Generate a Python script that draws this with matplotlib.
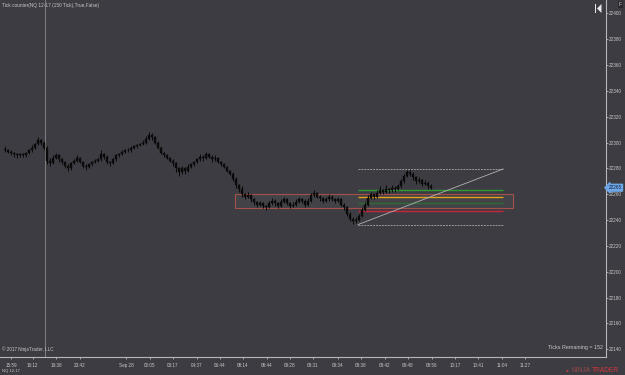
import matplotlib
matplotlib.use("Agg")
import matplotlib.pyplot as plt
from matplotlib.patches import Rectangle, Polygon
import matplotlib.transforms as mtransforms

plt.rcParams['font.family'] = ['Liberation Sans', 'DejaVu Sans']

# Bars (tick bars, index based)
bar_open = [22295, 22294, 22293, 22292, 22291, 22290, 22291, 22290, 22292, 22294,
            22296, 22299, 22302, 22300, 22296, 22286, 22284, 22288, 22290, 22287,
            22285, 22282, 22280, 22284, 22286, 22288, 22285, 22282, 22281, 22283,
            22285, 22286, 22287, 22291, 22289, 22285, 22284, 22287, 22290, 22291,
            22293, 22294, 22294, 22296, 22297, 22298, 22299, 22300, 22303, 22306,
            22304, 22300, 22296, 22292, 22290, 22288, 22286, 22284, 22280, 22277,
            22280, 22278, 22281, 22283, 22285, 22287, 22289, 22288, 22291, 22289,
            22287, 22288, 22285, 22283, 22281, 22278, 22276, 22272, 22267, 22264,
            22260, 22258, 22259, 22256, 22254, 22252, 22253, 22251, 22250, 22253,
            22255, 22253, 22251, 22254, 22256, 22253, 22251, 22252, 22254, 22256,
            22255, 22252, 22255, 22259, 22261, 22258, 22257, 22255, 22256, 22258,
            22256, 22255, 22256, 22252, 22250, 22245, 22241, 22239, 22240, 22243,
            22248, 22252, 22257, 22260, 22258, 22261, 22263, 22262, 22264, 22263,
            22265, 22264, 22266, 22270, 22274, 22277, 22276, 22273, 22270, 22271,
            22268, 22269, 22266]
bar_high = [22297, 22295, 22294, 22293, 22292, 22292, 22292, 22293, 22295, 22298,
            22300, 22304, 22303, 22301, 22297, 22288, 22290, 22292, 22291, 22288,
            22286, 22283, 22285, 22287, 22290, 22289, 22286, 22283, 22284, 22286,
            22287, 22288, 22294, 22292, 22290, 22286, 22288, 22291, 22292, 22294,
            22295, 22296, 22297, 22298, 22299, 22300, 22302, 22305, 22308, 22307,
            22305, 22301, 22297, 22293, 22291, 22289, 22287, 22285, 22281, 22282,
            22281, 22283, 22284, 22286, 22288, 22291, 22290, 22293, 22292, 22290,
            22290, 22289, 22286, 22284, 22282, 22279, 22277, 22273, 22268, 22266,
            22261, 22262, 22260, 22257, 22255, 22255, 22254, 22252, 22255, 22257,
            22256, 22254, 22256, 22258, 22257, 22254, 22254, 22256, 22258, 22257,
            22256, 22257, 22261, 22263, 22262, 22259, 22258, 22258, 22260, 22259,
            22257, 22258, 22257, 22253, 22251, 22246, 22242, 22242, 22245, 22250,
            22254, 22259, 22262, 22261, 22263, 22266, 22264, 22267, 22265, 22267,
            22266, 22268, 22272, 22276, 22279, 22279, 22277, 22274, 22273, 22272,
            22271, 22270, 22268]
bar_low = [22293, 22292, 22290, 22289, 22288, 22289, 22289, 22289, 22291, 22293,
           22295, 22298, 22298, 22294, 22283, 22282, 22283, 22287, 22285, 22283,
           22280, 22278, 22279, 22283, 22285, 22284, 22280, 22279, 22280, 22282,
           22284, 22285, 22286, 22287, 22283, 22282, 22283, 22286, 22289, 22290,
           22292, 22293, 22293, 22295, 22296, 22297, 22298, 22299, 22302, 22302,
           22299, 22295, 22291, 22289, 22287, 22285, 22282, 22277, 22274, 22276,
           22276, 22277, 22280, 22282, 22284, 22286, 22286, 22287, 22288, 22285,
           22286, 22284, 22282, 22280, 22277, 22275, 22270, 22265, 22262, 22258,
           22256, 22257, 22254, 22252, 22250, 22251, 22249, 22248, 22249, 22252,
           22251, 22249, 22250, 22253, 22252, 22249, 22250, 22251, 22253, 22253,
           22250, 22251, 22254, 22258, 22257, 22255, 22253, 22254, 22255, 22255,
           22253, 22254, 22251, 22248, 22243, 22239, 22237, 22238, 22239, 22242,
           22247, 22251, 22256, 22256, 22257, 22260, 22260, 22261, 22261, 22262,
           22262, 22263, 22265, 22269, 22273, 22274, 22271, 22268, 22269, 22266,
           22267, 22264, 22264]
bar_close = [22294, 22293, 22292, 22291, 22290, 22291, 22290, 22292, 22294, 22296,
             22299, 22302, 22300, 22296, 22286, 22284, 22288, 22290, 22287, 22285,
             22282, 22280, 22284, 22286, 22288, 22285, 22282, 22281, 22283, 22285,
             22286, 22287, 22291, 22289, 22285, 22284, 22287, 22290, 22291, 22293,
             22294, 22294, 22296, 22297, 22298, 22299, 22300, 22303, 22306, 22304,
             22300, 22296, 22292, 22290, 22288, 22286, 22284, 22280, 22277, 22280,
             22278, 22281, 22283, 22285, 22287, 22289, 22288, 22291, 22289, 22287,
             22288, 22285, 22283, 22281, 22278, 22276, 22272, 22267, 22264, 22260,
             22258, 22259, 22256, 22254, 22252, 22253, 22251, 22250, 22253, 22255,
             22253, 22251, 22254, 22256, 22253, 22251, 22252, 22254, 22256, 22255,
             22252, 22255, 22259, 22261, 22258, 22257, 22255, 22256, 22258, 22256,
             22255, 22256, 22252, 22250, 22245, 22241, 22239, 22240, 22243, 22248,
             22252, 22257, 22260, 22258, 22261, 22263, 22262, 22264, 22263, 22265,
             22264, 22266, 22270, 22274, 22277, 22276, 22273, 22270, 22271, 22268,
             22269, 22266, 22265]

time_tick_pos = [2, 9.3, 17, 25, 40.3, 48.3, 56, 64, 71.7, 79.3, 87.3, 95, 102.7,
                 111, 118.7, 126.7, 134.3, 142.3, 150, 157.7, 165.7, 173.3]
time_labels = ["15:59", "16:12", "19:38", "23:42", "Sep 28", "02:05", "03:17",
               "04:37", "06:44", "08:14", "08:44", "09:28", "09:31", "09:34",
               "09:38", "09:42", "09:48", "09:56", "10:17", "10:41", "11:04", "11:27"]
price_ticks = list(range(22140, 22401, 20))
last_price = 22265

# drawing objects
session_break = 13.3
rect_x = (76.7, 169.3)
rect_y = (22249.5, 22260)
fib_x = (117.7, 166)
fib_low, fib_high = 22236.5, 22279.5
fib_ratios = [0.236, 0.382, 0.5, 0.618]
fib_colors = ['#c8243c', '#2f6b34', '#e3a21a', '#2f9a2f']

BG = '#3c3c42'
TXT = '#c8c8c8'

fig = plt.figure(figsize=(6.25, 3.75), dpi=100, facecolor=BG)
ax = fig.add_axes([0, 18 / 375, 606 / 625, 357 / 375], facecolor=BG)
ax.set_xlim(-1.667, 200.33)
ax.set_ylim(22134.0, 22410.3)

# session break line
ax.axvline(session_break, color='#8c8c8c', lw=0.6, zorder=1)

# rectangle
ax.add_patch(Rectangle((rect_x[0], rect_y[0]), rect_x[1] - rect_x[0], rect_y[1] - rect_y[0],
                       facecolor=(1, 1, 1, 0.03), edgecolor='#a5504a', lw=0.8, zorder=2))

# fibonacci retracement
rng = fib_high - fib_low
ax.hlines([fib_low, fib_high], fib_x[0], fib_x[1], colors='#9a9a9a', lw=0.7,
          linestyles=(0, (2, 1)), zorder=2)
for r, c in zip(fib_ratios, fib_colors):
    ax.hlines(fib_low + r * rng, fib_x[0], fib_x[1], colors=c, lw=1.0, zorder=2)
ax.plot(fib_x, [fib_low, fib_high], color='#b4b4b4', lw=0.6, zorder=2)

# candles
for i, (o, h, l, c) in enumerate(zip(bar_open, bar_high, bar_low, bar_close)):
    ax.vlines(i, l, h, color='#0a0a0a', lw=0.7, zorder=3)
    lo, hi = min(o, c), max(o, c)
    ax.add_patch(Rectangle((i - 0.35, lo), 0.7, max(hi - lo, 0.4),
                           facecolor='#0a0a0a', edgecolor='#0a0a0a', lw=0.3, zorder=3))

# axes frame and ticks
for s in ['top', 'left']:
    ax.spines[s].set_visible(False)
for s in ['right', 'bottom']:
    ax.spines[s].set_color('#b8b8b8')
    ax.spines[s].set_linewidth(0.8)
ax.yaxis.tick_right()
ax.set_yticks(price_ticks)
ax.set_yticklabels([str(p) for p in price_ticks])
ax.set_xticks(time_tick_pos)
ax.set_xticklabels(time_labels)
ax.tick_params(axis='both', colors='#b8b8b8', labelcolor=TXT, labelsize=3.3,
               length=1.5, width=0.6)
ax.tick_params(axis='y', pad=0.6)
ax.tick_params(axis='x', pad=2.5)

# current price marker
trans = mtransforms.blended_transform_factory(ax.transAxes, ax.transData)
ax.text(608.5 / 606, last_price, str(last_price), transform=trans, fontsize=3.3,
        color='#10203a', va='center', ha='left', clip_on=False, zorder=6,
        bbox=dict(boxstyle='larrow,pad=0.2', fc='#6ea6e6', ec='#6ea6e6'))

# texts
fig.text(2 / 625, 1 - 5 / 375, "Tick counter(NQ 12-17 (150 Tick),True,False)",
         fontsize=3.4, color=TXT, va='center', ha='left')
fig.text(2 / 625, 1 - 349 / 375, "\u00a9 2017 NinjaTrader, LLC",
         fontsize=3.3, color=TXT, va='center', ha='left')
fig.text(2 / 625, 1 - 371 / 375, "NQ 12-17", fontsize=3.0, color=TXT,
         va='center', ha='left')
fig.text(603 / 625, 1 - 348 / 375, "Ticks Remaining = 152", fontsize=3.9,
         color=TXT, va='center', ha='right')
fig.text(566 / 625, 1 - 371 / 375, "\u25cf", fontsize=3.5, color='#c23b3b',
         va='center', ha='left')
fig.text(572 / 625, 1 - 371 / 375, "NINJA", fontsize=4.8, color='#9a4a4a',
         va='center', ha='left')
fig.text(592 / 625, 1 - 371 / 375, "TRADER", fontsize=4.8, color='#d2383c',
         va='center', ha='left')

# top-right icons
fig.patches.append(Rectangle((594.5 / 625, 1 - 13 / 375), 1.6 / 625, 9 / 375,
                             transform=fig.transFigure, fc='#e8e8e8', ec='none'))
fig.patches.append(Polygon([(597 / 625, 1 - 8.5 / 375), (601.5 / 625, 1 - 4 / 375),
                            (601.5 / 625, 1 - 13 / 375)], closed=True,
                           transform=fig.transFigure, fc='#e8e8e8', ec='none'))
fig.text(620.5 / 625, 1 - 4.5 / 375, "F", fontsize=4, color=TXT, va='center',
         ha='center', bbox=dict(boxstyle='square,pad=0.2', fc='#2a2a2e', ec='none'))

fig.savefig("out.png", dpi=100, facecolor=BG)
